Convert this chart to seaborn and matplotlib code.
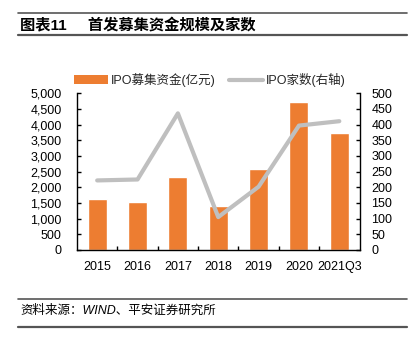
import numpy as np
import pandas as pd
import matplotlib
matplotlib.use("Agg")
import matplotlib.pyplot as plt
from matplotlib.lines import Line2D
from matplotlib.patches import Patch
import seaborn as sns

categories = ["2015", "2016", "2017", "2018", "2019", "2020", "2021Q3"]
ipo_funds = [1620, 1520, 2340, 1415, 2570, 4735, 3720]
ipo_counts = [222, 225, 436, 105, 202, 397, 411]
left_ticks = [0, 500, 1000, 1500, 2000, 2500, 3000, 3500, 4000, 4500, 5000]
right_ticks = [0, 50, 100, 150, 200, 250, 300, 350, 400, 450, 500]
title_text = "图表11     首发募集资金规模及家数"
source_text = "资料来源：WIND、平安证券研究所"
legend_labels = ["IPO募集资金(亿元)", "IPO家数(右轴)"]

sns.set_theme(style="white")
plt.rcParams["font.family"] = ["Liberation Sans", "Noto Sans CJK SC", "DejaVu Sans"]

BAR = "#ED7D31"
LINE = "#BFBFBF"

df = pd.DataFrame({"cat": categories, "funds": ipo_funds, "counts": ipo_counts,
                   "pos": np.arange(len(categories))})

fig = plt.figure(figsize=(4.19, 3.38), dpi=100)
ax = fig.add_axes([77 / 419, 1 - 250 / 338, (359.5 - 77) / 419, (250 - 93.3) / 338])

sns.barplot(data=df, x="cat", y="funds", color=BAR, saturation=1, width=0.47, ax=ax)
ax.set_xlim(-0.5, len(categories) - 0.5)
ax.set_ylim(0, 5000)
ax.set_yticks(left_ticks)
ax.set_yticklabels([f"{v:,}" for v in left_ticks])
ax.set_xlabel("")
ax.set_ylabel("")

ax2 = ax.twinx()
sns.lineplot(data=df, x="pos", y="counts", color=LINE, linewidth=3.0, sort=False, ax=ax2)
ax2.set_ylim(0, 500)
ax2.set_yticks(right_ticks)
ax2.set_xlim(-0.5, len(categories) - 0.5)
ax2.set_ylabel("")
ax2.set_xlabel("")

for a in (ax, ax2):
    for s in a.spines.values():
        s.set_visible(False)
ax.spines["left"].set_visible(True)
ax.spines["bottom"].set_visible(True)
ax2.spines["right"].set_visible(True)
for s in [ax.spines["left"], ax.spines["bottom"], ax2.spines["right"]]:
    s.set_color("black")
    s.set_linewidth(1.0)

ax.tick_params(axis="y", direction="in", length=3, width=1, color="black",
               labelsize=9, pad=11, left=True, labelcolor="black")
ax2.tick_params(axis="y", direction="in", length=3, width=1, color="black",
                labelsize=9, pad=8.5, right=True, labelcolor="black")
ax.set_xticks(np.arange(len(categories)))
ax.set_xticklabels(categories)
ax.set_xticks(np.arange(len(categories) - 1) + 0.5, minor=True)
ax.tick_params(axis="x", which="major", length=0, labelsize=9, pad=8, labelcolor="black")
ax.tick_params(axis="x", which="minor", direction="in", length=3, width=1,
               color="black", bottom=True)
ax2.tick_params(axis="x", which="both", bottom=False, labelbottom=False)

handles = [Patch(facecolor=BAR, edgecolor="none"),
           Line2D([0], [0], color=LINE, linewidth=3.0)]
fig.legend(handles, legend_labels, loc="center left",
           bbox_to_anchor=(74 / 419, 1 - 80 / 338), ncol=2, frameon=False,
           fontsize=9, handlelength=2.7, handletextpad=0.25, columnspacing=1.1,
           borderaxespad=0, borderpad=0)

# header / footer rules
def hline(y, lw, color="#555555"):
    fig.add_artist(Line2D([18 / 419, 407 / 419], [1 - y / 338, 1 - y / 338],
                          color=color, linewidth=lw, transform=fig.transFigure))

hline(12.7, 1.2)
hline(35.0, 1.6)
hline(299.3, 1.2)
hline(326.7, 1.6)

fig.text(20 / 419, 1 - 26 / 338, title_text, fontsize=11, fontweight="bold",
         va="center", ha="left", color="black")
fig.text(20 / 419, 1 - 311 / 338, source_text, fontsize=9, style="italic",
         va="center", ha="left", color="black")

fig.savefig("out.png", dpi=100)
